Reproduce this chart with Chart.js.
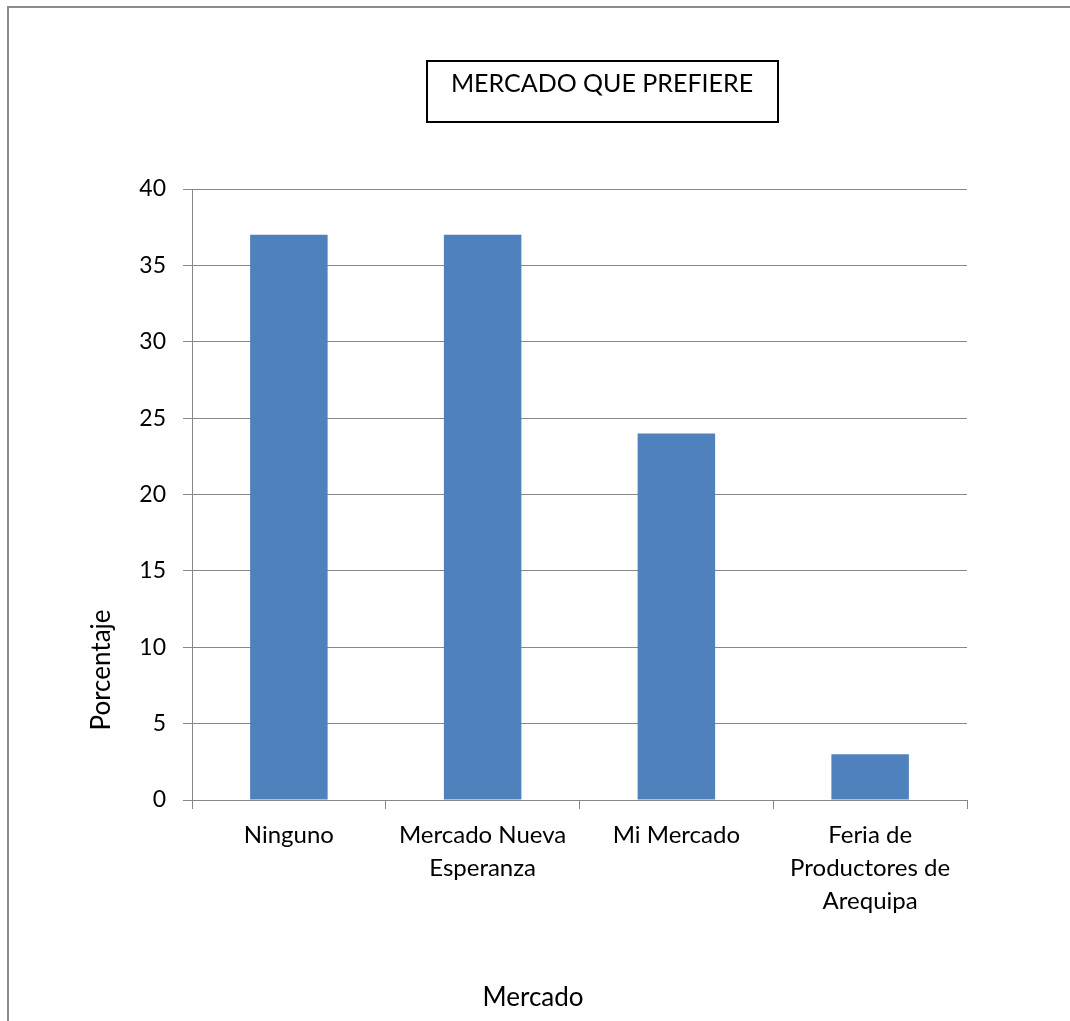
<!DOCTYPE html>
<html>
<head>
<meta charset="utf-8">
<script src="https://cdn.jsdelivr.net/npm/chart.js@4/dist/chart.umd.min.js"></script>
<style>
  html, body { margin: 0; padding: 0; background: #ffffff; }
  #wrap { width: 1070px; height: 1021px; position: relative; }
</style>
</head>
<body>
<div id="wrap"><canvas id="c" width="1070" height="1021"></canvas></div>
<script>
// Survey: preferred market (percent of respondents)
const categories = [
  'Ninguno',
  ['Mercado Nueva', 'Esperanza'],
  'Mi Mercado',
  ['Feria de', 'Productores de', 'Arequipa']
];
const porcentaje = [37, 37, 24, 3];
const yTicks = [0, 5, 10, 15, 20, 25, 30, 35, 40];

const chartTitle = 'MERCADO QUE PREFIERE';
const xTitle = 'Mercado';
const yTitle = 'Porcentaje';

const FONT = 'Lato, "Open Sans", sans-serif';
const GRID = '#878787';

// Frame, boxed title and axis titles
const decorations = {
  id: 'decorations',
  beforeDraw(chart) {
    const ctx = chart.ctx;
    ctx.save();
    ctx.fillStyle = '#ffffff';
    ctx.fillRect(0, 0, chart.width, chart.height);
    ctx.strokeStyle = '#8c8c8c';
    ctx.lineWidth = 2;
    ctx.strokeRect(8, 7, chart.width + 20, chart.height + 20);
    ctx.restore();
  },
  afterDraw(chart) {
    const ctx = chart.ctx;
    ctx.save();
    // title box
    ctx.strokeStyle = '#000000';
    ctx.lineWidth = 2;
    ctx.strokeRect(427, 61, 351, 61);
    ctx.fillStyle = '#000000';
    ctx.textAlign = 'center';
    ctx.textBaseline = 'middle';
    ctx.font = '25px ' + FONT;
    ctx.fillText(chartTitle, 602, 84);
    // x axis title
    ctx.font = '26px ' + FONT;
    ctx.fillText(xTitle, 533, 998);
    // y axis title
    ctx.translate(102, 670);
    ctx.rotate(-Math.PI / 2);
    ctx.fillText(yTitle, 0, 0);
    ctx.restore();
  }
};

new Chart(document.getElementById('c'), {
  type: 'bar',
  data: {
    labels: categories,
    datasets: [{
      label: yTitle,
      data: porcentaje,
      backgroundColor: '#4f81bd',
      borderWidth: 0,
      barPercentage: 0.4,
      categoryPercentage: 1.0
    }]
  },
  options: {
    responsive: false,
    animation: false,
    devicePixelRatio: 1,
    layout: { padding: { top: 189, right: 103, left: 0, bottom: 0 } },
    plugins: {
      legend: { display: false },
      title: { display: false },
      tooltip: { enabled: false }
    },
    scales: {
      x: {
        offset: true,
        grid: {
          offset: true,
          drawOnChartArea: false,
          drawTicks: true,
          tickLength: 9,
          color: GRID
        },
        border: { color: GRID, width: 1 },
        ticks: {
          color: '#000000',
          font: { family: FONT, size: 24, lineHeight: 1.375 },
          padding: 10,
          maxRotation: 0,
          autoSkip: false
        },
        afterFit(scale) { scale.height = 221; }
      },
      y: {
        min: 0,
        max: 40,
        afterBuildTicks(scale) { scale.ticks = yTicks.map(v => ({ value: v })); },
        grid: {
          color: GRID,
          drawTicks: true,
          tickLength: 9
        },
        border: { color: GRID, width: 1 },
        ticks: {
          color: '#000000',
          font: { family: FONT, size: 23 },
          padding: 17
        },
        afterFit(scale) { scale.width = 192; }
      }
    }
  },
  plugins: [decorations]
});
</script>
</body>
</html>
